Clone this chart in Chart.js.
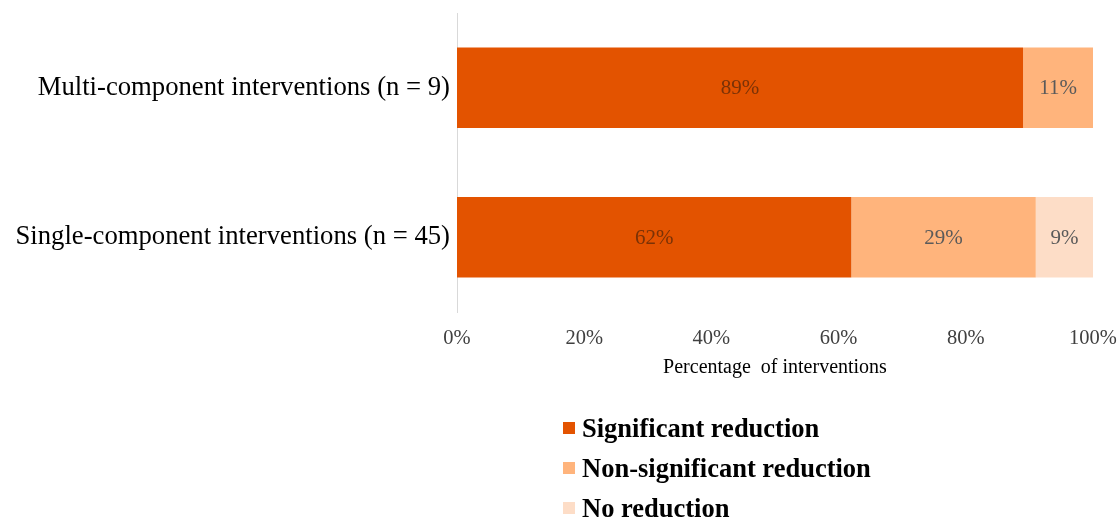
<!DOCTYPE html>
<html>
<head>
<meta charset="utf-8">
<script src="https://cdn.jsdelivr.net/npm/chart.js@4"></script>
<style>
  html, body { margin: 0; padding: 0; background: #fff; }
  #wrap { position: relative; width: 1120px; height: 517px; }
  #legend { position: absolute; left: 563px; top: 408px; font-family: "Liberation Serif", "Times New Roman", serif;
            font-weight: bold; font-size: 26.5px; color: #000; }
  .item { height: 40px; display: flex; align-items: center; }
  .box { width: 12px; height: 12px; margin-right: 7px; }
</style>
</head>
<body>
<div id="wrap">
  <canvas id="c" width="1120" height="517"></canvas>
  <div id="legend"></div>
</div>
<script>
// Share of interventions by outcome, per intervention type
const categories = ['Multi-component interventions (n = 9)', 'Single-component interventions (n = 45)'];
const significantReduction = [89, 62];
const nonSignificantReduction = [11, 29];
const noReduction = [0, 9];
const seriesNames = ['Significant reduction', 'Non-significant reduction', 'No reduction'];
const xTicks = [0, 20, 40, 60, 80, 100];

const colors = ['#E35300', '#FFB47C', '#FDDDC7'];
const labelColors = ['#7A3206', '#5A5A5A', '#5A5A5A'];
const serif = '"Liberation Serif", "Times New Roman", serif';

const valueLabels = {
  id: 'valueLabels',
  afterDatasetsDraw(chart) {
    const ctx = chart.ctx;
    ctx.save();
    ctx.font = '21px ' + serif;
    ctx.textAlign = 'center';
    ctx.textBaseline = 'middle';
    chart.data.datasets.forEach((ds, i) => {
      const meta = chart.getDatasetMeta(i);
      meta.data.forEach((bar, j) => {
        const v = ds.data[j];
        if (!v) return;
        const cx = (bar.x + bar.base) / 2;
        ctx.fillStyle = labelColors[i];
        ctx.fillText(v + '%', cx, bar.y + 1);
      });
    });
    ctx.restore();
  }
};

const chart = new Chart(document.getElementById('c'), {
  type: 'bar',
  data: {
    labels: categories,
    datasets: [
      { label: seriesNames[0], data: significantReduction, backgroundColor: colors[0] },
      { label: seriesNames[1], data: nonSignificantReduction, backgroundColor: colors[1] },
      { label: seriesNames[2], data: noReduction, backgroundColor: colors[2] }
    ]
  },
  options: {
    indexAxis: 'y',
    responsive: false,
    animation: false,
    layout: { padding: { top: 13, right: 27, bottom: 137, left: 0 } },
    datasets: { bar: { categoryPercentage: 1, barPercentage: 0.54 } },
    plugins: { legend: { display: false }, tooltip: { enabled: false } },
    scales: {
      x: {
        stacked: true,
        min: 0, max: 100,
        afterBuildTicks(scale) { scale.ticks = xTicks.map(v => ({ value: v })); },
        grid: { display: false, drawTicks: false },
        border: { display: false },
        ticks: { padding: 14, color: '#404040', font: { family: serif, size: 20.5 }, callback: v => v + '%' },
        title: { display: true, text: 'Percentage  of interventions', color: '#000', font: { family: serif, size: 20 }, padding: { top: 2, bottom: 0 } },
        afterFit(scale) { scale.height = 68; scale.paddingLeft = 0; scale.paddingRight = 0; }
      },
      y: {
        stacked: true,
        grid: { display: false, drawTicks: false },
        border: { display: true, color: '#D9D9D9', width: 1 },
        ticks: { padding: 7, color: '#000', font: { family: serif, size: 26.7 } },
        afterFit(scale) { scale.width = 457; scale.paddingTop = 0; scale.paddingBottom = 0; }
      }
    }
  },
  plugins: [valueLabels]
});

const legend = document.getElementById('legend');
seriesNames.forEach((name, i) => {
  const row = document.createElement('div');
  row.className = 'item';
  const box = document.createElement('span');
  box.className = 'box';
  box.style.background = colors[i];
  row.appendChild(box);
  row.appendChild(document.createTextNode(name));
  legend.appendChild(row);
});
</script>
</body>
</html>
